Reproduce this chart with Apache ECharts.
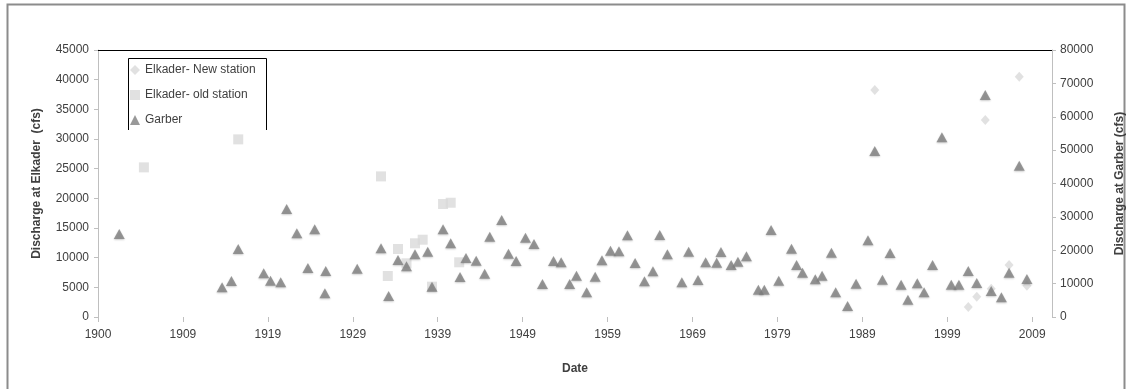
<!DOCTYPE html>
<html>
<head>
<meta charset="utf-8">
<script src="https://cdn.jsdelivr.net/npm/echarts@6/dist/echarts.min.js"></script>
<style>
html,body{margin:0;padding:0;background:#fff;}
#c{width:1130px;height:389px;}
</style>
</head>
<body>
<div id="c"></div>
<script>
// x tick labels (ticks every 3650 days from 1 Jan 1900)
const tickLabels = ['1900','1909','1919','1929','1939','1949','1959','1969','1979','1989','1999','2009'];

// Elkader - New station (left axis, cfs)
const newYears = [1991.4, 2002.4, 2003.4, 2004.4, 2005.1, 2007.2, 2008.4, 2009.3];
const newCfs   = [38250, 1690, 3420, 33190, 4770, 8760, 40490, 5280];

// Elkader - old station (left axis, cfs)
const oldYears = [1905.4, 1916.5, 1933.3, 1934.1, 1935.3, 1936.3, 1937.3, 1938.2, 1939.3, 1940.6, 1941.5, 1942.5];
const oldCfs   = [25220, 29940, 23700, 6910, 11460, 9050, 12420, 13030, 5110, 19040, 19260, 9220];

// Garber (right axis, cfs)
const garberYears = [1902.5, 1914.6, 1915.7, 1916.5, 1919.5, 1920.3, 1921.5, 1922.2, 1923.4, 1924.7,
  1925.5, 1926.7, 1926.8, 1930.5, 1933.3, 1934.2, 1935.3, 1936.3, 1937.3, 1938.8,
  1939.3, 1940.6, 1941.5, 1942.6, 1943.3, 1944.5, 1945.5, 1946.1, 1947.5, 1948.3,
  1949.2, 1950.3, 1951.3, 1952.3, 1953.6, 1954.5, 1955.5, 1956.3, 1957.5, 1958.5,
  1959.3, 1960.3, 1961.3, 1962.3, 1963.2, 1964.3, 1965.3, 1966.1, 1967.0, 1968.7,
  1969.5, 1970.6, 1971.5, 1972.8, 1973.3, 1974.5, 1975.3, 1976.3, 1977.7, 1978.4,
  1979.2, 1980.1, 1981.6, 1982.2, 1982.9, 1984.4, 1985.2, 1986.3, 1986.8, 1988.2,
  1989.2, 1990.6, 1991.4, 1992.3, 1993.2, 1994.5, 1995.3, 1996.4, 1997.2, 1998.2,
  1999.3, 2000.4, 2001.3, 2002.4, 2003.4, 2004.4, 2005.1, 2006.3, 2007.2, 2008.4, 2009.3];
const garberCfs = [24870, 8900, 10790, 20370, 13090, 10880, 10390, 32360, 25080, 14680,
  26270, 7100, 13780, 14480, 20580, 6290, 17080, 15190, 18780, 19570,
  9090, 26270, 22080, 11980, 17680, 16870, 12980, 24070, 29060, 18970,
  16780, 23770, 21870, 9890, 16780, 16380, 9890, 12390, 7390, 12080,
  16980, 19870, 19680, 24470, 16180, 10690, 13690, 24570, 18780, 10390,
  19570, 11090, 16380, 16280, 19470, 15580, 16580, 18180, 8190, 8190,
  26070, 10880, 20470, 15580, 13280, 11290, 12380, 19270, 7390, 3300,
  9980, 22980, 49730, 11190, 19170, 9680, 5190, 10090, 7390, 15580,
  53830, 9680, 9680, 13780, 10190, 66510, 7790, 5900, 13280, 45340, 11380];

// convert decimal year to day count since 1 Jan 1900 (date axis)
const toDays = y => (y - 1900) * 365.25;
const pairs = (xs, ys) => xs.map((x, i) => [toDays(x), ys[i]]);

const FONT = 'Liberation Sans';
const TXT = '#404040';
const AXC = '#bfbfbf';
const plain = v => String(v);

const chart = echarts.init(document.getElementById('c'), null, {renderer: 'canvas'});
chart.setOption({
  animation: false,
  backgroundColor: '#ffffff',
  textStyle: {fontFamily: FONT},
  grid: {left: 98, right: 78, top: 50, bottom: 72, containLabel: false, outerBoundsMode: 'none'},
  legend: {
    orient: 'vertical',
    left: 130, top: 63, padding: 0,
    itemWidth: 10, itemHeight: 10, itemGap: 11,
    textStyle: {fontFamily: FONT, fontSize: 12, color: TXT, lineHeight: 14},
    data: [
      {name: 'Elkader- New station', icon: 'diamond'},
      {name: 'Elkader- old station', icon: 'rect'},
      {name: 'Garber', icon: 'triangle'}
    ]
  },
  xAxis: [{
    type: 'value',
    min: 0, max: 41000, interval: 3650,
    name: 'Date', nameLocation: 'middle', nameGap: 46,
    nameTextStyle: {fontFamily: FONT, fontSize: 12, fontWeight: 'bold', color: TXT},
    axisLine: {show: false, onZero: false},
    axisTick: {show: true, length: 5, lineStyle: {color: AXC}},
    axisLabel: {
      margin: 12, fontFamily: FONT, fontSize: 12, color: TXT, showMaxLabel: false,
      formatter: v => { const i = Math.round(v / 3650); return Math.abs(v - i * 3650) < 1 ? (tickLabels[i] || '') : ''; }
    },
    splitLine: {show: false}
  }, {
    type: 'value', position: 'top',
    min: 0, max: 41000,
    axisLine: {show: true, onZero: false, lineStyle: {color: '#000', width: 1}},
    axisTick: {show: false}, axisLabel: {show: false}, splitLine: {show: false}
  }],
  yAxis: [{
    type: 'value', position: 'left',
    min: 0, max: 45000, interval: 5000,
    name: 'Discharge at Elkader  (cfs)', nameLocation: 'middle', nameGap: 55, nameRotate: 90,
    nameTextStyle: {fontFamily: FONT, fontSize: 12, fontWeight: 'bold', color: TXT},
    axisLine: {show: true, onZero: false, lineStyle: {color: AXC}},
    axisTick: {show: true, length: 4, lineStyle: {color: AXC}},
    minorTick: {show: false},
    axisLabel: {margin: 9, fontFamily: FONT, fontSize: 12, color: TXT, formatter: plain},
    splitLine: {show: false}
  }, {
    type: 'value', position: 'right',
    min: 0, max: 80000, interval: 10000,
    name: 'Discharge at Garber (cfs)', nameLocation: 'middle', nameGap: 62, nameRotate: 90,
    nameTextStyle: {fontFamily: FONT, fontSize: 12, fontWeight: 'bold', color: TXT},
    axisLine: {show: true, onZero: false, lineStyle: {color: AXC}},
    axisTick: {show: true, length: 4, lineStyle: {color: AXC}},
    minorTick: {show: false},
    axisLabel: {margin: 8, fontFamily: FONT, fontSize: 12, color: TXT, formatter: plain},
    splitLine: {show: false}
  }],
  graphic: [
    {type: 'rect', shape: {x: 7.5, y: 4.5, width: 1117, height: 400}, style: {fill: 'none', stroke: '#8c8c8c', lineWidth: 2}, silent: true, z: -10},
    {type: 'polyline', shape: {points: [[128.5, 130], [128.5, 58.5], [266.5, 58.5], [266.5, 130]]}, style: {fill: 'none', stroke: '#000', lineWidth: 1}, silent: true, z: 1}
  ],
  series: [{
    name: 'Elkader- New station', type: 'scatter', xAxisIndex: 0, yAxisIndex: 0,
    symbol: 'diamond', symbolSize: [9, 10],
    itemStyle: {color: '#d9d9d9'},
    data: pairs(newYears, newCfs), z: 2
  }, {
    name: 'Elkader- old station', type: 'scatter', xAxisIndex: 0, yAxisIndex: 0,
    symbol: 'rect', symbolSize: 10,
    itemStyle: {color: '#d9d9d9'},
    data: pairs(oldYears, oldCfs), z: 2
  }, {
    name: 'Garber', type: 'scatter', xAxisIndex: 0, yAxisIndex: 1,
    symbol: 'triangle', symbolSize: [11, 10],
    itemStyle: {color: '#7f7f7f', shadowColor: 'rgba(0,0,0,0.25)', shadowBlur: 2, shadowOffsetY: 1},
    data: pairs(garberYears, garberCfs), z: 3
  }]
});
</script>
</body>
</html>
